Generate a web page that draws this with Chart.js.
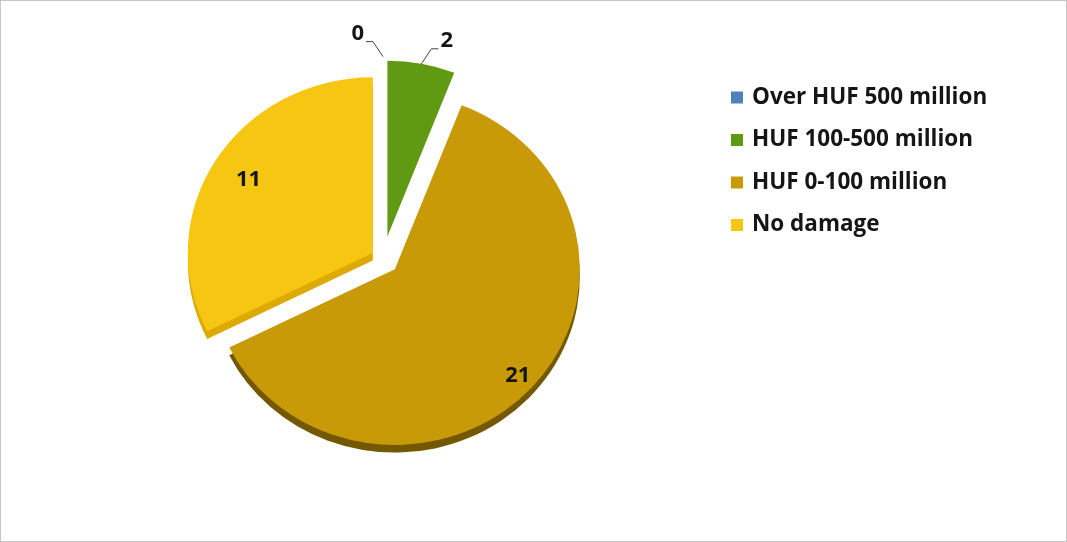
<!DOCTYPE html>
<html>
<head>
<meta charset="utf-8">
<script src="https://cdn.jsdelivr.net/npm/chart.js@4"></script>
<style>
  html, body { margin: 0; padding: 0; background: #fff; }
  #wrap { width: 1067px; height: 542px; box-sizing: border-box; border: 1px solid #c6c6c6; }
</style>
</head>
<body>
<div id="wrap"><canvas id="damageChart" width="1065" height="540"></canvas></div>
<script>
const categories = ['Over HUF 500 million', 'HUF 100-500 million', 'HUF 0-100 million', 'No damage'];
const counts = [0, 2, 21, 11];

const faceColors = ['#4f81bd', '#5f9a12', '#c99a08', '#f6c612'];
const edgeColors = ['#355f91', '#3f6a08', '#735800', '#dcaa00'];
const edgeDepth = [0, 0, 8, 8];
const explode = [28, 24, 16, 12];
const labelRadius = [1, 1, 0.9, 0.79];   // fraction of the radius for inside labels
const tilt = 0.95;   // slight vertical squash, pie seen a little from above
const labelFont = 'bold 22px "Open Sans", Lato, sans-serif';
const legendFont = 'bold 22.5px "Open Sans", Lato, sans-serif';

// centre of a slice once it has been pulled out along its middle angle
function sliceGeometry(arc, i) {
  const p = arc.getProps(['x', 'y', 'startAngle', 'endAngle', 'outerRadius'], true);
  const mid = (p.startAngle + p.endAngle) / 2;
  const d = explode[i] || 0;
  return {
    ...p, mid, d,
    cx: p.x + Math.cos(mid) * d,
    cy: p.y + Math.sin(mid) * d
  };
}

// pulls the slices apart, draws a darker copy under each one for thickness,
// then writes the values (small slices get a leader line)
const explodedPie = {
  id: 'explodedPie',
  beforeDatasetsDraw(chart) {
    const c = chart.ctx;
    const arcs = chart.getDatasetMeta(0).data;
    const pivot = arcs[0].y;
    c.save();
    c.translate(0, pivot);
    c.scale(1, tilt);
    c.translate(0, -pivot);
    arcs.forEach((arc, i) => {
      const g = sliceGeometry(arc, i);
      if (edgeDepth[i] && counts[i]) {
        c.save();
        c.fillStyle = edgeColors[i];
        c.beginPath();
        c.moveTo(g.cx, g.cy + edgeDepth[i]);
        c.arc(g.cx, g.cy + edgeDepth[i], g.outerRadius, g.startAngle, g.endAngle);
        c.closePath();
        c.fill();
        c.restore();
      }
      arc._home = { x: arc.x, y: arc.y };
      arc.x = g.cx;
      arc.y = g.cy;
    });
  },
  afterDatasetsDraw(chart) {
    const c = chart.ctx;
    c.restore();
    const arcs = chart.getDatasetMeta(0).data;
    arcs.forEach(arc => {
      if (arc._home) { arc.x = arc._home.x; arc.y = arc._home.y; }
    });
    const pivot = arcs[0].y;
    const sy = v => pivot + (v - pivot) * tilt;
    const total = counts.reduce((a, b) => a + b, 0);
    c.save();
    c.font = labelFont;
    c.fillStyle = '#151515';
    c.textBaseline = 'middle';
    arcs.forEach((arc, i) => {
      const g = sliceGeometry(arc, i);
      const cos = Math.cos(g.mid), sin = Math.sin(g.mid);
      const text = String(counts[i]);
      if (counts[i] / total > 0.1) {
        const r = g.outerRadius * labelRadius[i];
        c.textAlign = 'center';
        c.fillText(text, g.cx + cos * r, sy(g.cy + sin * r));
        return;
      }
      const ax = g.cx + cos * g.outerRadius, ay = sy(g.cy + sin * g.outerRadius);
      const side = cos > 0.05 ? 1 : -1;
      const ex = ax + side * 10, ey = ay - 15;
      const tx = ex + side * 7;
      c.strokeStyle = '#404040';
      c.lineWidth = 1;
      c.beginPath();
      c.moveTo(ax, ay);
      c.lineTo(ex, ey);
      c.lineTo(tx, ey);
      c.stroke();
      c.textAlign = side > 0 ? 'left' : 'right';
      c.fillText(text, tx + side * 2, ey - 8);
    });
    c.restore();
  }
};

const sideLegend = {
  id: 'sideLegend',
  afterDraw(chart) {
    const c = chart.ctx;
    c.save();
    c.font = legendFont;
    c.textBaseline = 'middle';
    c.textAlign = 'left';
    categories.forEach((name, i) => {
      const rowY = 96.5 + i * 42.5;
      c.fillStyle = faceColors[i];
      c.fillRect(730, rowY - 6, 12, 12);
      c.fillStyle = '#151515';
      c.fillText(name, 751, rowY);
    });
    c.restore();
  }
};

const ctx = document.getElementById('damageChart').getContext('2d');
new Chart(ctx, {
  type: 'pie',
  data: {
    labels: categories,
    datasets: [{
      data: counts,
      backgroundColor: faceColors,
      borderWidth: 0
    }]
  },
  options: {
    responsive: false,
    animation: false,
    radius: 185,
    layout: { padding: { left: 100, right: 401, top: 40, bottom: 64 } },
    plugins: {
      legend: { display: false },
      tooltip: { enabled: false }
    }
  },
  plugins: [explodedPie, sideLegend]
});
</script>
</body>
</html>
